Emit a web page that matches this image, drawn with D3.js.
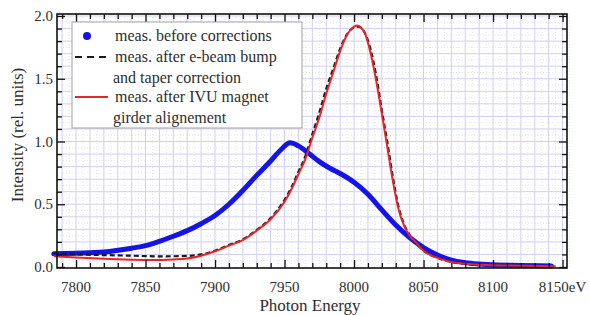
<!DOCTYPE html>
<html lang="en">
<head>
<meta charset="UTF-8">
<title>Photon energy spectrum</title>
<script src="https://d3js.org/d3.v7.min.js"></script>
<style>
    body { margin: 0; background: #fff; }
    text.t { font-family: "Liberation Serif", "DejaVu Serif", Times, serif; }
</style>
</head>
<body>
<div id="chart"></div>
<script>
const beforeE = [7784, 7800, 7820, 7840, 7850, 7860, 7870, 7880, 7890, 7900, 7910, 7920, 7930, 7940, 7947, 7954, 7960, 7968, 7975, 7983, 7990, 8000, 8010, 8020, 8030, 8040, 8050, 8060, 8070, 8080, 8090, 8100, 8120, 8142];
const beforeI = [0.105, 0.11, 0.12, 0.15, 0.17, 0.205, 0.245, 0.29, 0.345, 0.41, 0.5, 0.61, 0.73, 0.845, 0.93, 0.99, 0.965, 0.9, 0.84, 0.785, 0.745, 0.675, 0.58, 0.455, 0.335, 0.235, 0.155, 0.095, 0.055, 0.035, 0.024, 0.017, 0.012, 0.008];

const bumpE = [7784, 7800, 7820, 7840, 7860, 7880, 7890, 7900, 7910, 7920, 7930, 7940, 7950, 7955, 7960, 7965, 7970, 7975, 7980, 7985, 7990, 7995, 8000, 8003, 8007, 8012, 8016, 8020, 8024, 8028, 8032, 8036, 8040, 8045, 8050, 8055, 8062, 8070, 8080, 8095, 8120, 8145];
const bumpI = [0.11, 0.1, 0.095, 0.09, 0.085, 0.088, 0.1, 0.13, 0.175, 0.22, 0.295, 0.39, 0.535, 0.635, 0.76, 0.885, 1.06, 1.23, 1.42, 1.58, 1.74, 1.855, 1.91, 1.915, 1.88, 1.73, 1.52, 1.25, 0.99, 0.71, 0.48, 0.34, 0.255, 0.185, 0.13, 0.095, 0.065, 0.04, 0.025, 0.015, 0.01, 0.006];

const ivuE = [7784, 7800, 7820, 7840, 7855, 7870, 7880, 7890, 7900, 7910, 7920, 7930, 7940, 7950, 7955, 7960, 7965, 7970, 7975, 7980, 7985, 7990, 7995, 8000, 8002, 8007, 8012, 8016, 8020, 8024, 8028, 8032, 8036, 8040, 8045, 8050, 8055, 8062, 8070, 8080, 8095, 8120, 8145];
const ivuI = [0.085, 0.075, 0.065, 0.058, 0.055, 0.06, 0.068, 0.09, 0.125, 0.17, 0.215, 0.29, 0.38, 0.52, 0.62, 0.74, 0.86, 1.03, 1.19, 1.38, 1.55, 1.72, 1.85, 1.915, 1.925, 1.88, 1.70, 1.48, 1.22, 0.95, 0.68, 0.46, 0.33, 0.25, 0.19, 0.13, 0.095, 0.065, 0.04, 0.025, 0.015, 0.01, 0.006];

const xTicks = [7800, 7850, 7900, 7950, 8000, 8050, 8100, 8150];
const xTickLabels = ["7800", "7850", "7900", "7950", "8000", "8050", "8100", "8150eV"];
const yTicks = [0, 0.5, 1.0, 1.5, 2.0];

const legendLabels = [
    ["meas. before corrections"],
    ["meas. after e-beam bump", "and taper correction"],
    ["meas. after IVU magnet", "girder alignement"]
];

const W = 589, H = 315;
const TXT = "#2e2e2e";
const svg = d3.select("#chart").append("svg").attr("width", W).attr("height", H);

// plot frame 57..567 x 14..268
const x = d3.scaleLinear().domain([7786.3, 8153.2]).range([57, 567]);
const y = d3.scaleLinear().domain([-0.008, 2.016]).range([268, 14]);

const gridCol = "#d0d0f2";
const g = svg.append("g");

// fine dotted grid
g.selectAll(".vfine").data(d3.range(7790, 8153, 10).map(v => v + 5))
    .enter().append("line")
    .attr("x1", d => x(d)).attr("x2", d => x(d)).attr("y1", 14).attr("y2", 268)
    .attr("stroke", "#e4e4f8").attr("stroke-dasharray", "1,2");
g.selectAll(".hfine").data(d3.range(0, 2.0, 0.1).map(v => v + 0.05))
    .enter().append("line")
    .attr("x1", 57).attr("x2", 567).attr("y1", d => y(d)).attr("y2", d => y(d))
    .attr("stroke", "#e4e4f8").attr("stroke-dasharray", "1,2");

// grid at the minor ticks
g.selectAll(".vgrid").data(d3.range(7790, 8153, 10))
    .enter().append("line")
    .attr("x1", d => x(d)).attr("x2", d => x(d)).attr("y1", 14).attr("y2", 268)
    .attr("stroke", gridCol);
g.selectAll(".hgrid").data(d3.range(0.1, 2.01, 0.1))
    .enter().append("line")
    .attr("x1", 57).attr("x2", 567).attr("y1", d => y(d)).attr("y2", d => y(d))
    .attr("stroke", gridCol);

// curves
const line = (E, I) => d3.line().x((d, i) => x(E[i])).y(d => y(d)).curve(d3.curveMonotoneX)(I);

svg.append("path").attr("d", line(beforeE, beforeI))
    .attr("fill", "none").attr("stroke", "#1414e8").attr("stroke-width", 5)
    .attr("stroke-linecap", "round").attr("stroke-linejoin", "round");

svg.append("path").attr("d", line(bumpE, bumpI))
    .attr("fill", "none").attr("stroke", "#1a1a1a").attr("stroke-width", 2.2)
    .attr("stroke-dasharray", "5,3");

svg.append("path").attr("d", line(ivuE, ivuI))
    .attr("fill", "none").attr("stroke", "#e8262a").attr("stroke-width", 2);

// axes: ticks pointing inwards
const minorX = d3.range(7790, 8153, 10).filter(v => v % 50 !== 0);
const minorY = d3.range(0.1, 2.01, 0.1).filter(v => Math.abs(v * 2 - Math.round(v * 2)) > 1e-6);

function ticks(axisFn, scale, vals, size, pos) {
    const a = svg.append("g").attr("transform", pos)
        .call(axisFn(scale).tickValues(vals).tickSize(size).tickFormat(""));
    a.select(".domain").remove();
    a.selectAll("line").attr("stroke", "#111").attr("stroke-width", 1.3);
    return a;
}
ticks(d3.axisBottom, x, xTicks, -8, "translate(0,268)");
ticks(d3.axisBottom, x, minorX, -5, "translate(0,268)");
ticks(d3.axisTop, x, xTicks, -8, "translate(0,14)");
ticks(d3.axisTop, x, minorX, -5, "translate(0,14)");
ticks(d3.axisLeft, y, yTicks, -8, "translate(57,0)");
ticks(d3.axisLeft, y, minorY, -5, "translate(57,0)");
ticks(d3.axisRight, y, yTicks, -8, "translate(567,0)");
ticks(d3.axisRight, y, minorY, -5, "translate(567,0)");

svg.append("rect").attr("x", 57).attr("y", 14).attr("width", 510).attr("height", 254)
    .attr("fill", "none").attr("stroke", "#111").attr("stroke-width", 1.6);

// tick labels
svg.selectAll(".xl").data(xTicks).enter().append("text").attr("class", "t")
    .attr("x", d => x(d)).attr("y", 292).attr("text-anchor", "middle")
    .attr("fill", TXT).attr("font-size", 15).text((d, i) => xTickLabels[i]);
svg.selectAll(".yl").data(yTicks).enter().append("text").attr("class", "t")
    .attr("x", 53).attr("y", d => y(d) + 5).attr("text-anchor", "end")
    .attr("fill", TXT).attr("font-size", 15).text(d => d.toFixed(1));

svg.append("text").attr("class", "t").attr("x", 310).attr("y", 311).attr("text-anchor", "middle")
    .attr("fill", TXT).attr("font-size", 17).text("Photon Energy");
svg.append("text").attr("class", "t").attr("transform", "translate(23,135) rotate(-90)")
    .attr("fill", TXT).attr("text-anchor", "middle").attr("font-size", 17)
    .text("Intensity (rel. units)");

// legend
const lg = svg.append("g");
lg.append("rect").attr("x", 72).attr("y", 22).attr("width", 230).attr("height", 106)
    .attr("fill", "#fff").attr("stroke", "#a0a0a0").attr("stroke-width", 1);
lg.append("circle").attr("cx", 87).attr("cy", 36).attr("r", 4).attr("fill", "#1414e8");
lg.append("line").attr("x1", 75).attr("x2", 107).attr("y1", 57).attr("y2", 57)
    .attr("stroke", "#1a1a1a").attr("stroke-width", 2.2).attr("stroke-dasharray", "7,5");
lg.append("line").attr("x1", 75).attr("x2", 108).attr("y1", 97).attr("y2", 97)
    .attr("stroke", "#e8262a").attr("stroke-width", 2);
const rows = [[41], [62, 83], [102, 123]];
legendLabels.forEach((lines, i) => {
    lines.forEach((t, j) => {
        lg.append("text").attr("class", "t").attr("x", j === 0 ? 115 : 113).attr("y", rows[i][j])
            .attr("fill", TXT).attr("font-size", 16).text(t);
    });
});
</script>
</body>
</html>
